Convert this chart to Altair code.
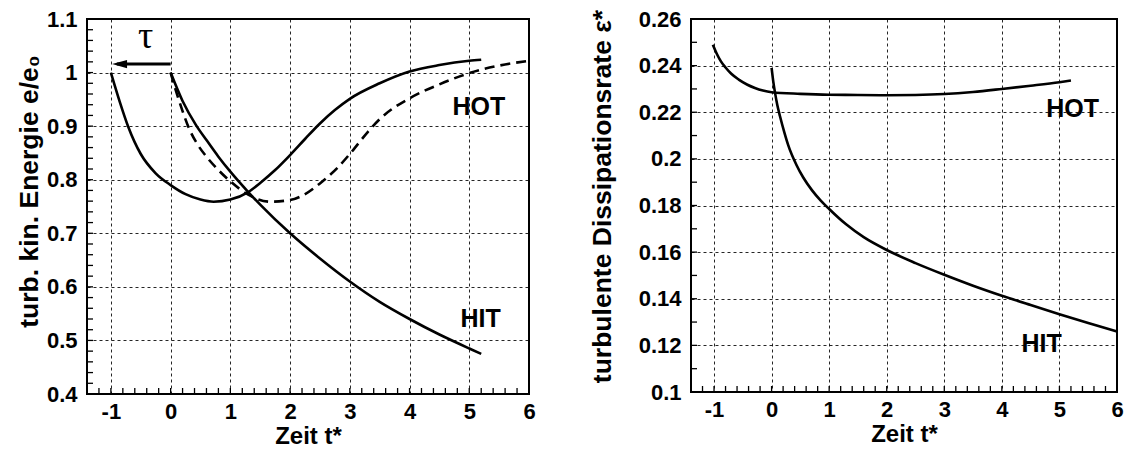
import altair as alt
import pandas as pd

FONT = "Liberation Sans"

# ---------------- left panel data ----------------
t_hot_l = [-1.0, -0.85, -0.71, -0.5, -0.25, 0.0, 0.25, 0.5, 0.72, 1.0, 1.3, 1.5, 1.75, 2.0,
           2.25, 2.5, 2.75, 3.0, 3.5, 4.0, 4.5, 5.0, 5.2]
e_hot_l = [1.0, 0.945, 0.899, 0.848, 0.812, 0.790, 0.773, 0.763, 0.759, 0.763, 0.777, 0.794,
           0.818, 0.846, 0.876, 0.905, 0.930, 0.951, 0.980, 1.002, 1.014, 1.022, 1.024]

t_hit_l = [0.0, 0.2, 0.425, 0.6, 0.8, 1.0, 1.3, 1.5, 2.0, 2.5, 3.0, 3.5, 4.0, 4.5, 5.0, 5.2]
e_hit_l = [1.0, 0.947, 0.902, 0.874, 0.843, 0.815, 0.777, 0.7535, 0.700, 0.653, 0.610,
           0.572, 0.540, 0.511, 0.485, 0.475]

t_dash_l = [0.0, 0.1, 0.2, 0.3, 0.45, 0.6, 0.8, 1.0, 1.3, 1.67, 2.0, 2.2, 2.5, 2.8, 3.0,
            3.3, 3.5, 4.0, 4.5, 5.0, 5.5, 6.0]
e_dash_l = [1.0, 0.962, 0.928, 0.898, 0.866, 0.843, 0.818, 0.797, 0.772, 0.759, 0.762,
            0.770, 0.793, 0.823, 0.848, 0.889, 0.913, 0.952, 0.978, 0.999, 1.013, 1.022]

# ---------------- right panel data ----------------
t_hot_r = [-1.02, -0.95, -0.88, -0.80, -0.70, -0.57, -0.42, -0.29, -0.15, 0.0, 0.5, 1.0,
           1.5, 2.0, 2.5, 3.0, 3.5, 4.0, 4.5, 5.0, 5.2]
eps_hot_r = [0.2490, 0.2450, 0.2418, 0.2392, 0.2365, 0.2340, 0.2318, 0.2304, 0.2293, 0.2286,
             0.2279, 0.2275, 0.2274, 0.2273, 0.2274, 0.2278, 0.2287, 0.2300, 0.2314, 0.2329,
             0.2336]

t_hit_r = [0.0, 0.03, 0.06, 0.1, 0.146, 0.22, 0.29, 0.43, 0.55, 0.7, 0.85, 1.0, 1.3, 1.6,
           2.0, 2.5, 3.0, 3.5, 4.0, 4.5, 5.0, 5.5, 6.0]
eps_hit_r = [0.2390, 0.2330, 0.2283, 0.2230, 0.2183, 0.2115, 0.2058, 0.1975, 0.1920, 0.1866,
             0.1822, 0.1785, 0.1718, 0.1664, 0.1609, 0.1553, 0.1503, 0.1456, 0.1413, 0.1373,
             0.1334, 0.1296, 0.1260]

# ---------------- axes / labels ----------------
x_major = [-1, 0, 1, 2, 3, 4, 5, 6]
x_minor = [round(-1.2 + 0.2 * i, 1) for i in range(36)]
y_major_l = [0.4, 0.5, 0.6, 0.7, 0.8, 0.9, 1.0, 1.1]
y_minor_l = [round(0.42 + 0.02 * i, 2) for i in range(34)]
y_major_r = [0.1, 0.12, 0.14, 0.16, 0.18, 0.2, 0.22, 0.24, 0.26]
y_minor_r = [round(0.11 + 0.01 * i, 2) for i in range(15)]

labels_l = ["HOT", "HIT"]
labels_l_t = [5.16, 5.19]
labels_l_y = [0.936, 0.540]
labels_r = ["HOT", "HIT"]
labels_r_t = [5.23, 4.69]
labels_r_y = [0.2212, 0.1207]

tau_text = ["τ"]
tau_t = [-0.42]
tau_y = [1.066]
arrow_t = [0.0, -0.9]
arrow_y = [1.016, 1.016]
arrow_tip_t = [-0.98]

XDOM = [-1.4, 6]
W1, H1 = 442, 375
W2, H2 = 426, 373


def make_encoders(ydom, ymaj, ytitle, tpad, tsize, ty):
    xs = alt.Scale(domain=XDOM, nice=False, zero=False)
    ys = alt.Scale(domain=ydom, nice=False, zero=False)
    xa = alt.Axis(values=x_major, labelExpr="'' + datum.value", title="Zeit t*",
                  grid=True, ticks=False, domain=False, labelFlush=False,
                  labelPadding=7, titlePadding=2, titleFontSize=24)
    ya = alt.Axis(values=ymaj, labelExpr="'' + datum.value", title=ytitle,
                  grid=True, ticks=False, domain=False, labelFlush=False,
                  labelPadding=10, titlePadding=tpad, titleFontSize=tsize, titleY=ty)
    return (lambda: alt.X("t:Q", scale=xs, axis=xa)), (lambda: alt.Y("v:Q", scale=ys, axis=ya))


def panel(curves, dashed, ydom, ymaj, ymin, ytitle, tpad, tsize, ty, lab, W, H, extra=None):
    X, Y = make_encoders(ydom, ymaj, ytitle, tpad, tsize, ty)
    layers = []
    for (tt, vv) in curves:
        df = pd.DataFrame({"t": tt, "v": vv})
        layers.append(alt.Chart(df).mark_line(color="black", strokeWidth=2.6,
                                              interpolate="monotone").encode(x=X(), y=Y()))
    for (tt, vv) in dashed:
        df = pd.DataFrame({"t": tt, "v": vv})
        layers.append(alt.Chart(df).mark_line(color="black", strokeWidth=2.6,
                                              interpolate="monotone",
                                              strokeDash=[10, 6]).encode(x=X(), y=Y()))
    # inward ticks
    xt = pd.DataFrame({"t": sorted(set(x_minor + x_major))})
    layers.append(alt.Chart(xt).mark_rule(color="black", strokeWidth=1.3).encode(
        x=X(), y=alt.value(H), y2=alt.value(H - 6)))
    yt = pd.DataFrame({"v": sorted(set(ymin + ymaj))})
    layers.append(alt.Chart(yt).mark_rule(color="black", strokeWidth=1.3).encode(
        y=Y(), x=alt.value(0), x2=alt.value(6)))
    # labels
    ldf = pd.DataFrame({"t": lab[1], "v": lab[2], "s": lab[0]})
    layers.append(alt.Chart(ldf).mark_text(font=FONT, fontWeight="bold", fontSize=25,
                                           color="black", align="center",
                                           baseline="middle").encode(
        x=X(), y=Y(), text="s:N"))
    if extra:
        for ch in extra:
            layers.append(ch(X, Y))
    return alt.layer(*layers).properties(width=W, height=H)


def arrow(X, Y):
    return alt.Chart(pd.DataFrame({"t": arrow_t, "v": arrow_y})).mark_line(
        color="black", strokeWidth=3).encode(x=X(), y=Y())


def tip(X, Y):
    return alt.Chart(pd.DataFrame({"t": arrow_tip_t, "v": [arrow_y[0]]})).mark_point(
        shape="M 0 0 L 2 -0.55 L 2 0.55 Z", size=225, filled=True, color="black",
        opacity=1).encode(x=X(), y=Y())


def tau(X, Y):
    return alt.Chart(pd.DataFrame({"t": tau_t, "v": tau_y, "s": tau_text})).mark_text(
        font="Liberation Serif", fontSize=38, color="black", align="center",
        baseline="middle").encode(x=X(), y=Y(), text="s:N")


left = panel([(t_hot_l, e_hot_l), (t_hit_l, e_hit_l)], [(t_dash_l, e_dash_l)],
             [0.4, 1.1], y_major_l, y_minor_l, "turb. kin. Energie  e/e₀", 3, 26.5, 172,
             (labels_l, labels_l_t, labels_l_y), W1, H1, [arrow, tip, tau])

right = panel([(t_hot_r, eps_hot_r), (t_hit_r, eps_hit_r)], [],
              [0.1, 0.26], y_major_r, y_minor_r, "turbulente  Dissipationsrate ε*", 22,
              26.5, 177, (labels_r, labels_r_t, labels_r_y), W2, H2)

chart = alt.hconcat(left, right, spacing=162, bounds="flush").properties(
    padding={"left": 15, "top": 4, "right": 0, "bottom": 0},
    background="white"
).configure_view(stroke="black", strokeWidth=2).configure_axis(
    labelFont=FONT, labelFontWeight="bold", labelFontSize=22, labelColor="black",
    titleFont=FONT, titleFontWeight="bold", titleColor="black",
    gridColor="black", gridDash=[3, 3], gridWidth=1, gridOpacity=0.85
)

chart.save("out.html", embed_options={"renderer": "svg", "actions": False})
